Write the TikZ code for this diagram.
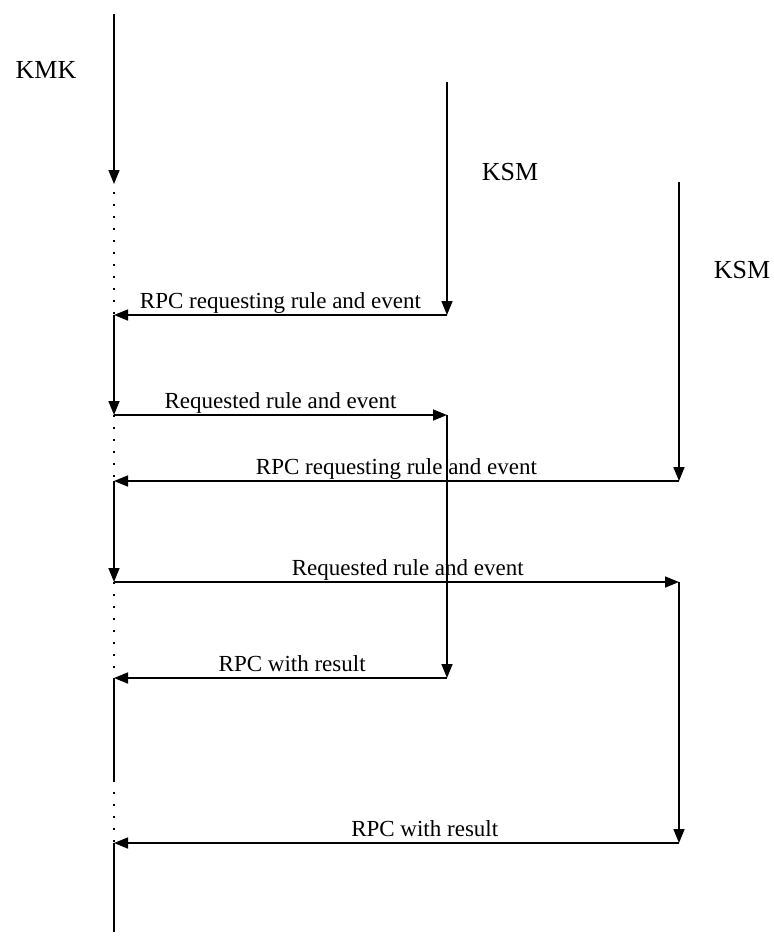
\documentclass[tikz,border=0pt]{standalone}
\usepackage{fontspec}
\setmainfont{Liberation Serif}
\usetikzlibrary{arrows.meta, positioning}
\tikzset{
  flow/.style={line width=1.6pt, -{Triangle[length=14pt, width=11pt]}},
  waiting/.style={line width=1.6pt, dash pattern=on 1.6pt off 10.4pt},
  plain/.style={line width=1.6pt},
  msglabel/.style={font=\fontsize{23}{27}\selectfont, anchor=base, inner sep=0pt, yshift=7pt},
  actor/.style={font=\fontsize{26}{30}\selectfont, inner sep=0pt}
}

\begin{document}
\begin{tikzpicture}[x=1pt, y=-1pt]
  \useasboundingbox (0,0) rectangle (774,938);
  % actors
  \node[actor] (kmk) at (46,70) {KMK};
  \node[actor] (ksmA) at (510,172) {KSM};
  \node[actor] (ksmB) at (742,270) {KSM};
  % points on the lifelines
  \coordinate (k0) at (114,14);
  \coordinate (k1) at (114,184);
  \coordinate (k2) at (114,192);
  \coordinate (kA) at (114,315);
  \coordinate (kB) at (114,415);
  \coordinate (kC) at (114,481);
  \coordinate (kD) at (114,582);
  \coordinate (kE) at (114,678);
  \coordinate (k3) at (114,780);
  \coordinate (kF) at (114,843);
  \coordinate (k4) at (114,932);
  \coordinate (s0) at (447,82);
  \coordinate (sA) at (447,315);
  \coordinate (sB) at (447,415);
  \coordinate (sE) at (447,678);
  \coordinate (t0) at (679,182);
  \coordinate (tC) at (679,481);
  \coordinate (tD) at (679,582);
  \coordinate (tF) at (679,843);
  % KMK lifeline
  \draw[flow] (k0) -- (k1);
  \draw[waiting] (k2) -- (kA);
  \draw[flow] (kA) -- (kB);
  \draw[waiting] (kB) -- (kC);
  \draw[flow] (kC) -- (kD);
  \draw[waiting] (kD) -- (kE);
  \draw[plain] (kE) -- (k3);
  \draw[waiting] (k3) -- (kF);
  \draw[plain] (kF) -- (k4);
  % KSM lifelines
  \draw[flow] (s0) -- (sA);
  \draw[flow] (sB) -- (sE);
  \draw[flow] (t0) -- (tC);
  \draw[flow] (tD) -- (tF);
  % messages
  \draw[flow] (sA) -- node[msglabel] {RPC requesting rule and event} (kA);
  \draw[flow] (kB) -- node[msglabel] {Requested rule and event} (sB);
  \draw[flow] (tC) -- node[msglabel] {RPC requesting rule and event} (kC);
  \draw[flow] (kD) -- node[msglabel, pos=0.52] {Requested rule and event} (tD);
  \draw[flow] (sE) -- node[msglabel, pos=0.465] {RPC with result} (kE);
  \draw[flow] (tF) -- node[msglabel, pos=0.45] {RPC with result} (kF);
\end{tikzpicture}
\end{document}
